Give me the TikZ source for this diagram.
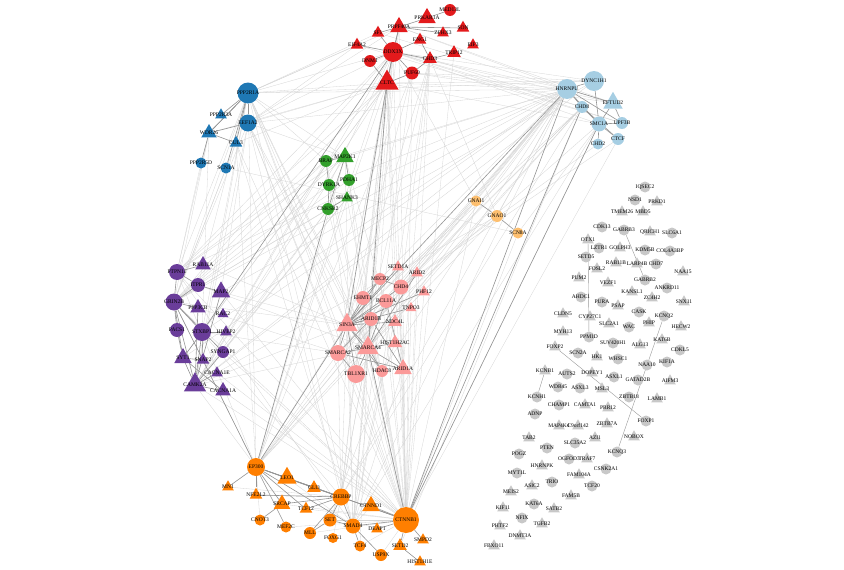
\documentclass[tikz,border=0pt]{standalone}
\usepackage{fontspec}
\setmainfont{Liberation Serif}
\usetikzlibrary{shapes.geometric,backgrounds}
\definecolor{cRed}{HTML}{E31A1C}
\definecolor{cLB}{HTML}{A6CEE3}
\definecolor{cBlue}{HTML}{1F78B4}
\definecolor{cGreen}{HTML}{33A02C}
\definecolor{cPurp}{HTML}{6A3D9A}
\definecolor{cPink}{HTML}{FB9A99}
\definecolor{cOr}{HTML}{FF7F00}
\definecolor{cLO}{HTML}{FDBF6F}
\definecolor{cGray}{HTML}{C8C8C8}
\tikzset{
 cn/.style={circle,inner sep=0pt},
 tn/.style={regular polygon,regular polygon sides=3,inner sep=0pt},
 lbl/.style={font=\fontsize{5.5}{6}\selectfont,inner sep=0pt,text=black},
 lite/.style={draw=black!17,line width=0.3pt},
 dark/.style={draw=black!42,line width=0.6pt},
 gline/.style={draw=black!40,line width=0.4pt},
}
\newcommand\sfcn{1}
\newcommand\sftn{1.12}
\newcommand\gn[6]{\node[#4,fill=#6,minimum size={\csname sf#4\endcsname*#5pt},label={[lbl]center:#1}] (#1) at (#2,#3) {};}
\begin{document}
\begin{tikzpicture}[x=1pt,y=-1pt]
\useasboundingbox (0,0) rectangle (844,570);
% red
\gn{MED13L}{450}{10}{cn}{12}{cRed}
\gn{PRKAR1A}{427}{18}{tn}{18}{cRed}
\gn{PRPF40A}{399}{27}{tn}{18}{cRed}
\gn{SON}{463}{28}{tn}{13}{cRed}
\gn{ZFHX3}{443}{33}{tn}{12}{cRed}
\gn{SF1}{378}{33}{tn}{13}{cRed}
\gn{ENG1}{420}{40}{tn}{13}{cRed}
\gn{EIF3}{473}{45}{tn}{12}{cRed}
\gn{EIF4A2}{357}{45}{tn}{13}{cRed}
\gn{DDX3X}{393}{52}{cn}{20}{cRed}
\gn{TRIP12}{454}{53}{tn}{14}{cRed}
\gn{DNM1}{370}{61}{cn}{12}{cRed}
\gn{CHD3}{430}{59}{tn}{14}{cRed}
\gn{PUF60}{412}{73}{cn}{13}{cRed}
\gn{CLTC}{387}{83}{tn}{24}{cRed}
% light blue
\gn{HNRNPU}{567}{89}{cn}{20}{cLB}
\gn{DYNC1H1}{594}{81}{cn}{20}{cLB}
\gn{EFTUD2}{613}{103}{tn}{20}{cLB}
\gn{CHD8}{582}{107}{cn}{12}{cLB}
\gn{SMC1A}{599}{124}{cn}{15}{cLB}
\gn{UPF3B}{622}{123}{cn}{12}{cLB}
\gn{CTCF}{618}{139}{cn}{12}{cLB}
\gn{CHD2}{598}{144}{cn}{11}{cLB}
% blue
\gn{PPP2R1A}{248}{93}{cn}{21}{cBlue}
\gn{PPP2R3A}{221}{115}{tn}{12}{cBlue}
\gn{EEF1A2}{248}{123}{cn}{17}{cBlue}
\gn{WDR26}{209}{133}{tn}{16}{cBlue}
\gn{CUL3}{236}{143}{tn}{13}{cBlue}
\gn{PPP2R5D}{201}{163}{cn}{11}{cBlue}
\gn{SCN1A}{226}{168}{cn}{11}{cBlue}
% green
\gn{BRAF}{326}{161}{cn}{12}{cGreen}
\gn{MAP2K1}{345}{157}{tn}{18}{cGreen}
\gn{PDHA1}{349}{180}{cn}{12}{cGreen}
\gn{DYRK1A}{329}{185}{cn}{12}{cGreen}
\gn{SHANK3}{347}{198}{tn}{12}{cGreen}
\gn{CNKSR2}{328}{209}{cn}{12}{cGreen}
% purple
\gn{RAB11A}{203}{265}{tn}{16}{cPurp}
\gn{PTPN11}{177}{272}{cn}{16}{cPurp}
\gn{ITPR1}{198}{285}{cn}{14}{cPurp}
\gn{MAP2}{221}{292}{tn}{19}{cPurp}
\gn{GRIN2B}{174}{302}{cn}{17}{cPurp}
\gn{PPP3CB}{198}{308}{tn}{16}{cPurp}
\gn{RAC2}{223}{314}{tn}{11}{cPurp}
\gn{PACS1}{177}{330}{cn}{14}{cPurp}
\gn{STXBP1}{202}{332}{cn}{18}{cPurp}
\gn{HIVEP2}{226}{332}{tn}{12}{cPurp}
\gn{SYNGAP1}{223}{352}{cn}{12}{cPurp}
\gn{SYT1}{183}{358}{tn}{18}{cPurp}
\gn{SNAP2}{203}{360}{tn}{13}{cPurp}
\gn{CACNA1E}{217}{373}{tn}{12}{cPurp}
\gn{CAMK2A}{195}{385}{tn}{23}{cPurp}
\gn{CACNA1A}{223}{391}{tn}{16}{cPurp}
% pink
\gn{SETD1A}{398}{267}{tn}{12}{cPink}
\gn{ARID2}{417}{273}{tn}{12}{cPink}
\gn{MECP2}{380}{279}{cn}{12}{cPink}
\gn{CHD4}{401}{287}{cn}{15}{cPink}
\gn{PHF12}{424}{292}{tn}{12}{cPink}
\gn{EHMT1}{363}{298}{cn}{14}{cPink}
\gn{BCL11A}{386}{301}{cn}{14}{cPink}
\gn{TNPO3}{411}{308}{tn}{11}{cPink}
\gn{ARID1B}{371}{319}{cn}{14}{cPink}
\gn{NDC4L}{395}{322}{tn}{14}{cPink}
\gn{SIN3A}{347}{325}{tn}{22}{cPink}
\gn{HIST1H2AC}{395}{343}{tn}{15}{cPink}
\gn{SMARCA4}{368}{348}{tn}{22}{cPink}
\gn{SMARCA2}{338}{353}{cn}{16}{cPink}
\gn{TBL1XR1}{356}{374}{cn}{18}{cPink}
\gn{HDAC8}{382}{371}{cn}{12}{cPink}
\gn{ARID1A}{403}{369}{tn}{18}{cPink}
% orange
\gn{EP300}{256}{467}{cn}{18}{cOr}
\gn{LEO1}{287}{478}{tn}{20}{cOr}
\gn{MN1}{228}{487}{tn}{12}{cOr}
\gn{GLI3}{314}{488}{tn}{14}{cOr}
\gn{NFE2L2}{256}{495}{tn}{13}{cOr}
\gn{SRCAP}{282}{504}{tn}{17}{cOr}
\gn{TCF12}{306}{509}{tn}{13}{cOr}
\gn{CNOT3}{260}{520}{cn}{11}{cOr}
\gn{MEF2C}{286}{527}{cn}{11}{cOr}
\gn{MLL}{310}{533}{cn}{12}{cOr}
\gn{SET}{330}{520}{cn}{13}{cOr}
\gn{FOXG1}{333}{538}{cn}{10}{cOr}
\gn{CREBBP}{341}{497}{cn}{17}{cOr}
\gn{CTNND1}{371}{506}{tn}{18}{cOr}
\gn{CTNNB1}{406}{520}{cn}{26}{cOr}
\gn{SMAD4}{353}{526}{cn}{15}{cOr}
\gn{DEAF1}{377}{529}{tn}{12}{cOr}
\gn{TCF4}{360}{546}{cn}{11}{cOr}
\gn{SETD2}{400}{546}{tn}{14}{cOr}
\gn{SMPD2}{423}{540}{tn}{12}{cOr}
\gn{USP9X}{381}{555}{cn}{12}{cOr}
\gn{HIST1H1E}{420}{562}{tn}{12}{cOr}
% light orange
\gn{GNAI1}{476}{201}{cn}{11}{cLO}
\gn{GNAO1}{497}{216}{cn}{12}{cLO}
\gn{SCN8A}{518}{233}{cn}{11}{cLO}
% gray
\gn{IQSEC2}{645}{187}{cn}{11}{cGray}
\gn{NSD1}{635}{200}{cn}{11}{cGray}
\gn{PRKD1}{657}{202}{tn}{12}{cGray}
\gn{TMEM26}{622}{212}{tn}{12}{cGray}
\gn{MBD5}{643}{212}{tn}{12}{cGray}
\gn{CDK13}{602}{227}{cn}{11}{cGray}
\gn{GABRB3}{624}{230}{cn}{11}{cGray}
\gn{QRICH1}{650}{232}{tn}{12}{cGray}
\gn{SLC6A1}{672}{233}{cn}{11}{cGray}
\gn{OTX1}{588}{240}{tn}{12}{cGray}
\gn{LZTR1}{599}{248}{cn}{11}{cGray}
\gn{GOLPH3}{620}{248}{tn}{12}{cGray}
\gn{KDM5B}{645}{250}{cn}{11}{cGray}
\gn{COL4A3BP}{670}{251}{cn}{11}{cGray}
\gn{SETD5}{586}{257}{cn}{11}{cGray}
\gn{RAB11B}{616}{263}{tn}{12}{cGray}
\gn{LARP4B}{637}{264}{tn}{12}{cGray}
\gn{CHD7}{656}{264}{cn}{11}{cGray}
\gn{FOSL2}{597}{269}{tn}{12}{cGray}
\gn{NAA15}{683}{272}{tn}{12}{cGray}
\gn{PUM2}{579}{278}{tn}{12}{cGray}
\gn{GABRB2}{645}{280}{cn}{11}{cGray}
\gn{VEZF1}{608}{283}{tn}{12}{cGray}
\gn{ANKRD11}{667}{288}{cn}{11}{cGray}
\gn{KANSL1}{632}{292}{tn}{12}{cGray}
\gn{AHDC1}{581}{297}{cn}{11}{cGray}
\gn{ZC4H2}{652}{298}{tn}{12}{cGray}
\gn{SNX11}{684}{302}{tn}{12}{cGray}
\gn{PURA}{602}{302}{cn}{11}{cGray}
\gn{PSAP}{618}{306}{tn}{12}{cGray}
\gn{CASK}{639}{312}{cn}{11}{cGray}
\gn{CLDN5}{563}{314}{tn}{12}{cGray}
\gn{CYP27C1}{590}{317}{tn}{12}{cGray}
\gn{KCNQ2}{664}{316}{cn}{11}{cGray}
\gn{SLC2A1}{609}{324}{tn}{12}{cGray}
\gn{PHIP}{649}{323}{tn}{12}{cGray}
\gn{WAC}{629}{327}{cn}{11}{cGray}
\gn{HECW2}{681}{327}{tn}{12}{cGray}
\gn{MYH13}{563}{332}{tn}{12}{cGray}
\gn{PPM1D}{589}{337}{cn}{11}{cGray}
\gn{KAT6B}{662}{340}{tn}{12}{cGray}
\gn{SUV420H1}{613}{343}{cn}{11}{cGray}
\gn{ALG13}{640}{345}{tn}{12}{cGray}
\gn{CDKL5}{680}{350}{cn}{11}{cGray}
\gn{FOXP2}{555}{347}{tn}{12}{cGray}
\gn{SCN2A}{578}{353}{cn}{11}{cGray}
\gn{HK1}{597}{357}{tn}{12}{cGray}
\gn{WHSC1}{618}{359}{cn}{11}{cGray}
\gn{KIF1A}{667}{362}{cn}{11}{cGray}
\gn{NAA10}{647}{365}{cn}{11}{cGray}
\gn{KCNB1}{545}{371}{tn}{12}{cGray}
\gn{AUTS2}{567}{374}{cn}{11}{cGray}
\gn{DOPEY1}{592}{373}{tn}{12}{cGray}
\gn{ASXL1}{614}{377}{cn}{11}{cGray}
\gn{GATAD2B}{638}{380}{cn}{11}{cGray}
\gn{AIFM3}{670}{381}{tn}{12}{cGray}
\gn{WDR45}{558}{387}{cn}{11}{cGray}
\gn{ASXL3}{580}{388}{cn}{11}{cGray}
\gn{MSL3}{602}{389}{tn}{12}{cGray}
\gn{ZBTB18}{629}{397}{cn}{11}{cGray}
\gn{LAMB1}{657}{399}{tn}{12}{cGray}
\gn{KCNH1}{537}{397}{cn}{11}{cGray}
\gn{CHAMP1}{559}{405}{cn}{11}{cGray}
\gn{CAMTA1}{585}{405}{tn}{12}{cGray}
\gn{PRR12}{608}{408}{tn}{12}{cGray}
\gn{FOXP1}{646}{421}{cn}{11}{cGray}
\gn{ADNP}{535}{414}{cn}{11}{cGray}
\gn{MAP4K4}{559}{426}{tn}{12}{cGray}
\gn{C9orf142}{578}{426}{tn}{12}{cGray}
\gn{ZBTB7A}{607}{424}{tn}{12}{cGray}
\gn{NOBOX}{634}{437}{tn}{12}{cGray}
\gn{TAB2}{529}{438}{tn}{12}{cGray}
\gn{AZI1}{595}{438}{tn}{12}{cGray}
\gn{SLC35A2}{575}{443}{cn}{11}{cGray}
\gn{PTEN}{547}{448}{cn}{11}{cGray}
\gn{KCNQ3}{617}{452}{cn}{11}{cGray}
\gn{POGZ}{519}{454}{cn}{11}{cGray}
\gn{OGFOD3}{569}{459}{cn}{11}{cGray}
\gn{TRAF7}{587}{459}{tn}{12}{cGray}
\gn{HNRNPK}{542}{466}{tn}{12}{cGray}
\gn{CSNK2A1}{606}{469}{cn}{11}{cGray}
\gn{MYT1L}{517}{473}{cn}{11}{cGray}
\gn{FAM104A}{579}{475}{tn}{12}{cGray}
\gn{TRIO}{552}{482}{cn}{11}{cGray}
\gn{ASIC2}{532}{486}{tn}{12}{cGray}
\gn{TCF20}{592}{486}{cn}{11}{cGray}
\gn{MEIS2}{511}{492}{tn}{12}{cGray}
\gn{FAM5B}{571}{496}{tn}{12}{cGray}
\gn{KAT6A}{534}{504}{cn}{11}{cGray}
\gn{SATB2}{554}{509}{tn}{12}{cGray}
\gn{KIF11}{503}{508}{tn}{12}{cGray}
\gn{NFIX}{522}{518}{cn}{11}{cGray}
\gn{TGFB2}{542}{524}{tn}{12}{cGray}
\gn{PHTF2}{500}{526}{tn}{12}{cGray}
\gn{DNMT3A}{520}{536}{tn}{12}{cGray}
\gn{FBXO11}{494}{546}{tn}{12}{cGray}
\begin{pgfonlayer}{background}
% long light edges
\foreach \a/\b in {HNRNPU/CLTC,HNRNPU/DDX3X,HNRNPU/PRPF40A,HNRNPU/PUF60,HNRNPU/SMARCA4,HNRNPU/ARID1B,HNRNPU/CHD4,HNRNPU/EP300,HNRNPU/CREBBP,HNRNPU/PPP2R1A,HNRNPU/EEF1A2,HNRNPU/GRIN2B,HNRNPU/STXBP1,HNRNPU/CAMK2A,HNRNPU/BCL11A,HNRNPU/GNAI1,HNRNPU/TBL1XR1,HNRNPU/MECP2,HNRNPU/HDAC8,HNRNPU/SMAD4,HNRNPU/DYRK1A,HNRNPU/BRAF,HNRNPU/MAP2K1,HNRNPU/PTPN11,HNRNPU/SYT1,HNRNPU/SMARCA2,
CHD8/ARID1B,CHD8/CHD4,CHD8/SMARCA4,CHD8/CHD3,CHD8/CREBBP,CHD8/SETD2,CHD8/EP300,CHD8/DDX3X,CHD8/SIN3A,
SMC1A/SMARCA2,SMC1A/CTNNB1,SMC1A/SMAD4,SMC1A/CLTC,SMC1A/DDX3X,CTCF/CTNNB1,CTCF/CHD4,CHD2/CHD4,
DYNC1H1/CLTC,DYNC1H1/DDX3X,DYNC1H1/MAP2,DYNC1H1/CAMK2A,DYNC1H1/PPP2R1A,DYNC1H1/PUF60,
EFTUD2/PRPF40A,EFTUD2/SF1,EFTUD2/DDX3X,EFTUD2/PUF60,UPF3B/DDX3X,UPF3B/EIF4A2,
CLTC/CTNNB1,CLTC/EP300,CLTC/CREBBP,CLTC/PPP2R1A,CLTC/EEF1A2,CLTC/GRIN2B,CLTC/STXBP1,CLTC/CAMK2A,CLTC/SYT1,CLTC/ARID1A,CLTC/TBL1XR1,CLTC/HIST1H2AC,CLTC/SMAD4,CLTC/SMARCA2,CLTC/PTPN11,CLTC/WDR26,CLTC/CUL3,
DDX3X/PPP2R1A,DDX3X/CTNNB1,DDX3X/EP300,DDX3X/SIN3A,DDX3X/SMARCA2,DDX3X/GRIN2B,DDX3X/PTPN11,DDX3X/CAMK2A,DDX3X/EEF1A2,DDX3X/CREBBP,DDX3X/MECP2,DDX3X/DYRK1A,DDX3X/GNAI1,DDX3X/SMAD4,
PRPF40A/PPP2R1A,PRPF40A/EEF1A2,PRPF40A/CTNNB1,PRPF40A/SMARCA4,SF1/PPP2R1A,EIF4A2/PPP2R1A,EIF4A2/EEF1A2,
PUF60/CTNNB1,PUF60/SMAD4,PUF60/SIN3A,PUF60/EP300,
CHD3/CHD4,CHD3/SIN3A,CHD3/HDAC8,CHD3/CTNNB1,CHD3/TBL1XR1,CHD3/ARID1A,CHD3/GNAO1,TRIP12/CTNNB1,
PPP2R1A/CTNNB1,PPP2R1A/SMAD4,PPP2R1A/EP300,PPP2R1A/CAMK2A,PPP2R1A/GRIN2B,PPP2R1A/PTPN11,PPP2R1A/SIN3A,PPP2R1A/STXBP1,PPP2R1A/BRAF,PPP2R1A/MAP2K1,PPP2R1A/SMARCA4,PPP2R1A/TBL1XR1,PPP2R1A/HDAC8,PPP2R1A/ITPR1,
EEF1A2/CTNNB1,EEF1A2/SMARCA2,EEF1A2/CAMK2A,EEF1A2/GRIN2B,EEF1A2/MAP2K1,EEF1A2/SIN3A,EEF1A2/HDAC8,EEF1A2/CREBBP,EEF1A2/MAP2,
WDR26/GRIN2B,WDR26/PTPN11,WDR26/STXBP1,CUL3/CTNNB1,CUL3/SMAD4,CUL3/GRIN2B,CUL3/EP300,PPP2R5D/PTPN11,SCN1A/SCN8A,SCN1A/GRIN2B,
BRAF/PTPN11,BRAF/CAMK2A,BRAF/CTNNB1,BRAF/GRIN2B,MAP2K1/PTPN11,MAP2K1/CTNNB1,MAP2K1/CAMK2A,MAP2K1/SMAD4,MAP2K1/ARID1A,MAP2K1/EP300,MAP2K1/GRIN2B,
DYRK1A/CTNNB1,DYRK1A/SIN3A,DYRK1A/GRIN2B,CNKSR2/CAMK2A,CNKSR2/SYNGAP1,CNKSR2/GRIN2B,CNKSR2/CTNNB1,SHANK3/CAMK2A,SHANK3/GRIN2B,SHANK3/SYNGAP1,SHANK3/CTNNB1,PDHA1/SMARCA4,PDHA1/GRIN2B,
GRIN2B/SIN3A,CAMK2A/SMARCA4,STXBP1/SMARCA2,PTPN11/CTNNB1,CAMK2A/CTNNB1,PPP3CB/SMARCA2,SYNGAP1/CTNNB1,GRIN2B/CTNNB1,STXBP1/CREBBP,CACNA1A/CTNNB1,PTPN11/EP300,MAP2/SIN3A,ITPR1/SMARCA4,RAB11A/SIN3A,MAP2/CTNNB1,CAMK2A/EP300,CAMK2A/SIN3A,GRIN2B/EP300,PTPN11/SMAD4,CACNA1E/CTNNB1,
SMARCA2/CREBBP,SMARCA4/CREBBP,ARID1B/CTNNB1,ARID1A/CTNNB1,TBL1XR1/CTNNB1,HDAC8/SMAD4,SIN3A/CTNNB1,BCL11A/CTNNB1,CHD4/CTNNB1,MECP2/CREBBP,EHMT1/EP300,HIST1H2AC/SET,SMARCA4/EP300,CHD4/SMAD4,ARID1B/EP300,SIN3A/CREBBP,SMARCA2/EP300,SMARCA4/TCF4,ARID1A/SMAD4,MECP2/CTNNB1,EHMT1/CTNNB1,SETD1A/CTNNB1,ARID2/CTNNB1,PHF12/CTNNB1,TNPO3/CTNNB1,SMARCA4/SMAD4,SIN3A/SMAD4,
GNAI1/CTNNB1,GNAO1/CAMK2A,GNAI1/SIN3A,GNAO1/HNRNPU,SCN8A/SMC1A,GNAO1/SMARCA4,SCN8A/CTNNB1,GNAI1/EP300,
CTNNB1/USP9X,CTNNB1/TCF4,CREBBP/FOXG1,EP300/CNOT3,LEO1/SMAD4,GLI3/CTNNB1,LEO1/CTNNB1,TCF12/CTNNB1,SRCAP/CTNNB1,MEF2C/CTNNB1,NFE2L2/CREBBP,MN1/CREBBP,SET/CTNNB1,MLL/CTNNB1,CTNND1/SMAD4}
  \draw[lite] (\a) -- (\b);
% cluster and darker edges
\foreach \a/\b in {PRPF40A/PRKAR1A,PRPF40A/SON,PRPF40A/ZFHX3,PRPF40A/SF1,PRPF40A/DDX3X,PRKAR1A/MED13L,DDX3X/EIF4A2,DDX3X/DNM1,DDX3X/PUF60,DDX3X/CLTC,DDX3X/CHD3,ENG1/CHD3,CHD3/PUF60,CLTC/DNM1,CLTC/PUF60,CHD3/TRIP12,ENG1/DDX3X,PRPF40A/CLTC,SF1/DDX3X,
HNRNPU/DYNC1H1,HNRNPU/CHD8,HNRNPU/SMC1A,HNRNPU/EFTUD2,HNRNPU/UPF3B,DYNC1H1/SMC1A,CHD8/SMC1A,SMC1A/UPF3B,SMC1A/CTCF,SMC1A/CHD2,EFTUD2/UPF3B,EFTUD2/SMC1A,CHD8/CTCF,
PPP2R1A/PPP2R3A,PPP2R1A/WDR26,PPP2R1A/EEF1A2,PPP2R1A/CUL3,WDR26/CUL3,WDR26/PPP2R5D,PPP2R1A/SCN1A,EEF1A2/WDR26,
BRAF/MAP2K1,BRAF/DYRK1A,DYRK1A/CNKSR2,MAP2K1/CNKSR2,MAP2K1/PDHA1,SHANK3/CNKSR2,
PTPN11/GRIN2B,PTPN11/ITPR1,GRIN2B/STXBP1,GRIN2B/PPP3CB,GRIN2B/PACS1,ITPR1/MAP2,STXBP1/SYT1,STXBP1/SNAP2,SYT1/SNAP2,SYT1/CAMK2A,CAMK2A/CACNA1A,CAMK2A/CACNA1E,STXBP1/CAMK2A,GRIN2B/CAMK2A,PPP3CB/CAMK2A,SYNGAP1/CAMK2A,PACS1/SYT1,GRIN2B/SYNGAP1,GRIN2B/SYT1,PTPN11/RAB11A,MAP2/CAMK2A,CACNA1A/SYT1,STXBP1/HIVEP2,GRIN2B/ITPR1,
SIN3A/ARID1B,SIN3A/SMARCA4,SIN3A/SMARCA2,SIN3A/BCL11A,SIN3A/EHMT1,SIN3A/HDAC8,SIN3A/TBL1XR1,SMARCA4/SMARCA2,SMARCA4/ARID1B,SMARCA4/ARID1A,SMARCA4/ARID2,SMARCA4/BCL11A,SMARCA4/TBL1XR1,SMARCA2/ARID1B,SMARCA2/ARID1A,ARID1B/ARID1A,CHD4/MECP2,CHD4/SIN3A,MECP2/SIN3A,EHMT1/MECP2,HIST1H2AC/SMARCA4,HDAC8/SMARCA4,TBL1XR1/SMARCA2,ARID1A/BCL11A,SETD1A/SIN3A,TNPO3/SIN3A,PHF12/SIN3A,NDC4L/SIN3A,
EP300/MN1,EP300/CREBBP,EP300/LEO1,EP300/SRCAP,EP300/NFE2L2,EP300/CTNNB1,EP300/SMAD4,EP300/TCF12,EP300/GLI3,EP300/MEF2C,CREBBP/CTNNB1,CREBBP/SMAD4,CREBBP/SET,CREBBP/LEO1,CREBBP/MLL,CREBBP/SRCAP,CREBBP/NFE2L2,CREBBP/TCF12,CREBBP/GLI3,CTNNB1/CTNND1,CTNNB1/SMAD4,CTNNB1/SETD2,CTNNB1/DEAF1,CTNNB1/SMPD2,SMAD4/SET,SMAD4/TCF4,SMAD4/USP9X,SETD2/HIST1H1E,CNOT3/SRCAP,SET/MLL,
GNAI1/GNAO1,GNAO1/SCN8A,
HNRNPU/SIN3A,HNRNPU/CTNNB1,CLTC/SIN3A,CLTC/SMARCA4,SIN3A/EP300,SMARCA4/CTNNB1,CHD8/CTNNB1,EP300/CNKSR2,DDX3X/STXBP1,CTNNB1/SMC1A,PPP2R1A/WDR26,GRIN2B/EP300}
  \draw[dark] (\a) -- (\b);
\foreach \a/\b in {GABRB3/GABRB2,OTX1/PPM1D,KCNQ2/KCNQ3,FOXP2/FOXP1,KCNB1/KCNH1}
  \draw[gline] (\a) -- (\b);
\end{pgfonlayer}
\end{tikzpicture}
\end{document}
